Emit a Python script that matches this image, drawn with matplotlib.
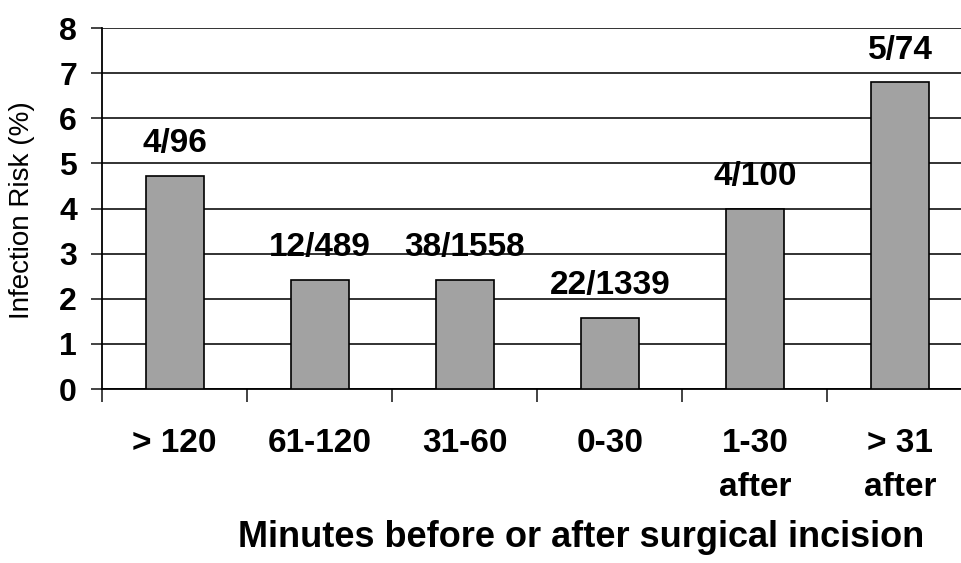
import matplotlib
matplotlib.use("Agg")
import matplotlib.pyplot as plt
from matplotlib.ticker import FixedLocator

categories = ["> 120", "61-120", "31-60", "0-30", "1-30\nafter", "> 31\nafter"]
risk = [4.72, 2.42, 2.42, 1.58, 4.0, 6.8]
bar_labels = ["4/96", "12/489", "38/1558", "22/1339", "4/100", "5/74"]
y_ticks = [0, 1, 2, 3, 4, 5, 6, 7, 8]

plt.rcParams['font.family'] = ['Liberation Sans', 'DejaVu Sans']

fig = plt.figure(figsize=(9.62, 5.63), dpi=100)
ax = fig.add_axes([0.106, 0.309, 0.905, 0.641])
x = list(range(len(categories)))
ax.set_axisbelow(True)
ax.yaxis.grid(True, color="#222222", linewidth=1.3)
ax.bar(x, risk, width=0.4, color="#a2a2a2", edgecolor="black", linewidth=1.2, zorder=3)
for xi, v, lab in zip(x, risk, bar_labels):
    ax.annotate(lab, (xi, v), xytext=(0, 12), textcoords="offset points",
                ha="center", va="bottom", fontsize=24, fontweight="bold")
ax.set_xlim(-0.5, len(categories) - 0.5)
ax.set_ylim(0, 8)
ax.set_yticks(y_ticks)
ax.set_yticklabels([str(t) for t in y_ticks], fontsize=23, fontweight="bold")
ax.tick_params(axis="y", length=8, width=1.2, color="#222222", pad=10)
ax.set_xticks(x)
ax.set_xticklabels(categories, fontsize=24, fontweight="bold", linespacing=1.55)
ax.xaxis.set_minor_locator(FixedLocator([i - 0.5 for i in range(len(categories) + 1)]))
ax.tick_params(axis="x", which="major", length=0, pad=28)
ax.tick_params(axis="x", which="minor", length=9, width=1.2, color="#222222")
for s in ["top", "right"]:
    ax.spines[s].set_visible(False)
ax.spines["left"].set_linewidth(1.3)
ax.spines["bottom"].set_linewidth(1.3)
fig.text(22 / 962, 1 - 210 / 563, "Infection Risk (%)", rotation=90, ha="center", va="center",
         fontsize=20)
fig.text(0.604, 0.046, "Minutes before or after surgical incision", ha="center", va="center",
         fontsize=26, fontweight="bold")
fig.savefig("out.png", dpi=100)
